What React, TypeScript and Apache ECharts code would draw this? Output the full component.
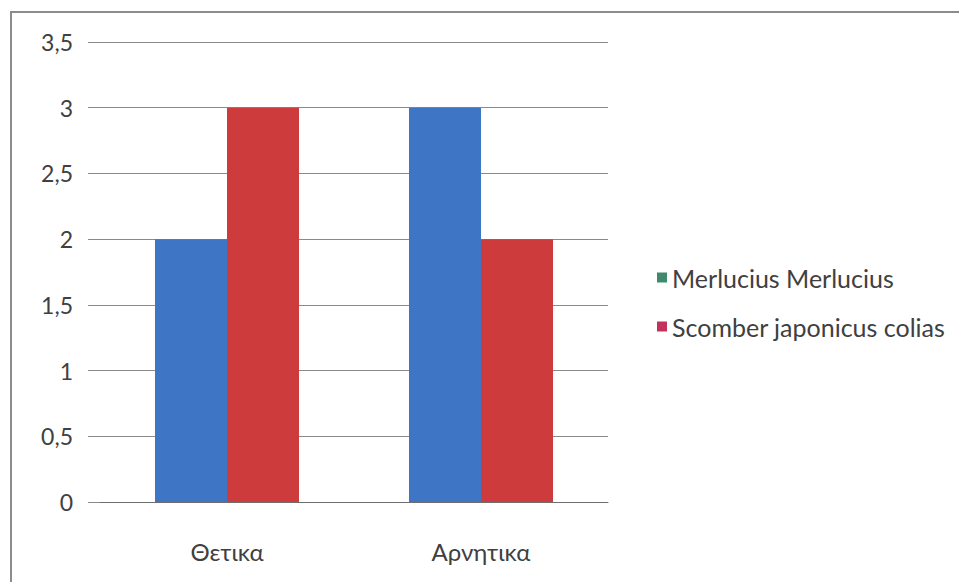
import React, { useEffect, useRef } from "react";
import * as echarts from "echarts";

const categories = ["Θετικα", "Αρνητικα"];
const seriesNames = ["Merlucius Merlucius", "Scomber japonicus colias"];
const merluciusValues = [2, 3];
const scomberValues = [3, 2];
const barColors = ["#3e75c5", "#cd3b3c"];
const legendColors = ["#3f8a6e", "#c2325c"];

export default function App() {
  const ref = useRef<HTMLDivElement>(null);
  useEffect(() => {
    document.body.style.margin = "0";
    const chart = echarts.init(ref.current!, null, { renderer: "svg" });
    const font = "Lato, 'Open Sans', sans-serif";
    chart.setOption({
      animation: false,
      backgroundColor: "#ffffff",
      textStyle: { fontFamily: font },
      graphic: [
        {
          type: "rect",
          shape: { x: 11, y: 12, width: 1000, height: 700 },
          style: { fill: "none", stroke: "#8c8c8c", lineWidth: 2 },
          silent: true,
        },
      ],
      grid: { left: 100, right: 351, top: 42, bottom: 80 },
      legend: {
        orient: "vertical",
        left: 652,
        top: 260,
        itemWidth: 10,
        itemHeight: 10,
        itemGap: 24,
        icon: "rect",
        textStyle: { fontSize: 25, color: "#404040", fontFamily: font },
        data: seriesNames.map((n, i) => ({
          name: n,
          itemStyle: { color: legendColors[i] },
        })),
      },
      xAxis: {
        type: "category",
        data: categories,
        axisLine: { show: true, lineStyle: { color: "#6e6e6e", width: 1 } },
        axisTick: { show: false },
        axisLabel: { fontSize: 24, color: "#404040", margin: 37, fontFamily: font },
      },
      yAxis: {
        type: "value",
        min: 0,
        max: 3.5,
        interval: 0.5,
        axisLine: { show: false },
        axisTick: { show: true, length: 12, lineStyle: { color: "#8a8a8a" } },
        splitLine: { show: true, lineStyle: { color: "#8a8a8a", width: 1 } },
        axisLabel: {
          fontSize: 23,
          color: "#404040",
          margin: 27,
          fontFamily: font,
          formatter: (v: number) => String(v).replace(".", ","),
        },
      },
      series: [
        {
          name: seriesNames[0],
          type: "bar",
          data: merluciusValues,
          barWidth: 72,
          barGap: "0%",
          itemStyle: { color: barColors[0] },
        },
        {
          name: seriesNames[1],
          type: "bar",
          data: scomberValues,
          barWidth: 72,
          barGap: "0%",
          itemStyle: { color: barColors[1] },
        },
      ],
    });
    return () => chart.dispose();
  }, []);
  return (
    <div
      ref={ref}
      style={{ position: "absolute", left: 0, top: 0, width: 959, height: 582 }}
    />
  );
}
